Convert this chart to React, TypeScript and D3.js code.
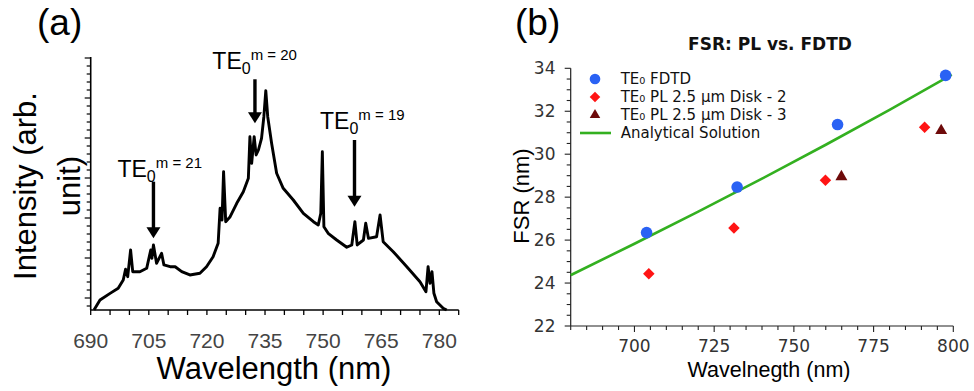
import React from "react";
import * as d3 from "d3";

// ---------- Panel (a): PL spectrum ----------
const specNm = [690.85, 692.4, 695.0, 697.1, 698.4, 699.0, 699.55, 700.3, 700.85, 702.7, 704.45, 705.5, 705.8, 706.2, 707.0, 708.3, 708.9, 710.5, 711.8, 713.5, 715.6, 718.2, 719.9, 721.6, 722.9, 723.4, 723.9, 724.3, 724.85, 726.0, 727.7, 729.4, 730.7, 731.1, 731.55, 732.2, 732.7, 733.3, 734.1, 734.7, 735.2, 735.7, 736.7, 738.0, 739.7, 742.3, 744.9, 747.5, 748.75, 749.4, 749.8, 750.2, 751.3, 753.5, 756.1, 757.4, 758.2, 758.8, 760.4, 761.0, 761.7, 763.8, 764.7, 765.5, 768.1, 771.6, 775.0, 776.55, 777.1, 777.6, 778.1, 778.6, 779.3, 781.0, 781.9];
const specI = [-1.5, -0.25, 0.58, 1.21, 2.25, 3.59, 2.66, 6.0, 3.29, 3.29, 3.71, 6.0, 4.96, 6.63, 4.34, 5.59, 4.13, 3.91, 3.91, 3.29, 2.88, 3.09, 3.91, 5.16, 6.84, 11.21, 9.75, 15.79, 9.54, 10.16, 11.84, 13.29, 14.96, 20.16, 16.84, 20.16, 17.88, 18.5, 19.96, 22.66, 25.91, 22.66, 19.34, 15.59, 13.71, 12.25, 10.59, 9.54, 9.13, 10.59, 18.29, 8.91, 8.09, 7.25, 6.34, 6.63, 9.54, 6.63, 7.25, 9.34, 7.46, 7.66, 10.38, 7.04, 5.79, 3.91, 2.04, 0.79, 3.91, 1.84, 3.29, 0.59, -0.46, -1.29, -1.5];
const xTickLabelsA = [690, 705, 720, 735, 750, 765, 780];
const modeLabels = ["m = 21", "m = 20", "m = 19"];
const modeArrowNm = [706.2, 732.4, 758.1];
const modeArrowTop = [14.54, 27.34, 19.75];
const modeArrowTip = [7.46, 21.84, 11.41];
const modeTextNm = [696.9, 721.4, 749.2];
const modeTextI = [15.17, 28.6, 21.09];

// ---------- Panel (b): FSR ----------
const fdtdNm = [703.8, 732.2, 763.7, 797.6];
const fdtdFsr = [26.35, 28.47, 31.38, 33.67];
const pl2Nm = [704.5, 731.2, 759.9, 791.0];
const pl2Fsr = [24.43, 26.56, 28.79, 31.26];
const pl3Nm = [764.9, 796.2];
const pl3Fsr = [28.95, 31.1];
const analyticNm = [680, 700, 720, 740, 760, 780, 799.5];
const analyticFsr = [24.37, 25.83, 27.33, 28.86, 30.44, 32.06, 33.7];
const yTickLabelsB = [22, 24, 26, 28, 30, 32, 34];
const xTickLabelsB = [700, 725, 750, 775, 800];
const legendLabels = ["TE\u2080 FDTD", "TE\u2080 PL 2.5 \u00b5m Disk - 2", "TE\u2080 PL 2.5 \u00b5m Disk - 3", "Analytical Solution"];

const BLUE = "#2a62f4";
const RED = "#ff1414";
const MAROON = "#6e0a0a";
const GREEN = "#33b020";
const ARIAL = "'Liberation Sans', Arial, sans-serif";
const DEJA = "'DejaVu Sans', sans-serif";

export default function App() {
  // scales (a)
  const xA = d3.scaleLinear().domain([690, 785]).range([90.7, 458.7]);
  const yA = d3.scaleLinear().domain([-1.5, 30]).range([310, 58]);
  const specLine = d3
    .line<number>()
    .x((_, i) => xA(specNm[i]))
    .y((d) => yA(d))(specI) as string;
  const xTicksA = d3.range(690, 786, 5);
  const yTicksA = d3.range(-1, 31, 1);

  // scales (b)
  const xB = d3.scaleLinear().domain([680, 800]).range([570.7, 953.3]);
  const yB = d3.scaleLinear().domain([22, 34]).range([326, 68.3]);
  const analyticPath = d3
    .line<number>()
    .x((_, i) => xB(analyticNm[i]))
    .y((d) => yB(d))
    .curve(d3.curveMonotoneX)(analyticFsr) as string;
  const xTicksB = d3.range(680, 801, 5);
  const yTicksB = d3.range(22, 34.01, 0.5);
  const sq = d3.symbol(d3.symbolSquare, 66)() as string;
  const sqLeg = d3.symbol(d3.symbolSquare, 56)() as string;
  const tri = d3.symbol(d3.symbolTriangle, 62)() as string;
  const triLeg = d3.symbol(d3.symbolTriangle, 48)() as string;

  const legX = 595;
  const legY0 = 79;
  const legDy = 18;

  return (
    <svg
      width={974}
      height={391}
      viewBox="0 0 974 391"
      style={{ position: "absolute", left: 0, top: 0, background: "#fff" }}
    >
      <rect width={974} height={391} fill="#fff" />
      {/* ===== Panel (a) ===== */}
      <text x={37} y={35} fontFamily={ARIAL} fontSize={37} fill="#000">(a)</text>
      {/* axes */}
      <line x1={xA(690)} x2={xA(690)} y1={yA(-1.5)} y2={yA(30) - 1} stroke="#000" strokeWidth={1.6} />
      <line x1={xA(690)} x2={xA(785)} y1={yA(-1.5)} y2={yA(-1.5)} stroke="#000" strokeWidth={1.6} />
      {xTicksA.map((t) => (
        <line key={"xa" + t} x1={xA(t)} x2={xA(t)} y1={yA(-1.5)} y2={yA(-1.5) + 5} stroke="#000" strokeWidth={1.3} />
      ))}
      {xTickLabelsA.map((t) => (
        <text key={"xla" + t} x={xA(t)} y={348} textAnchor="middle" fontFamily={ARIAL} fontSize={21} fill="#444">{t}</text>
      ))}
      {yTicksA.map((t) => (
        <line key={"ya" + t} x1={xA(690)} x2={xA(690) - (t % 5 === 0 ? 6 : 4)} y1={yA(t)} y2={yA(t)} stroke="#000" strokeWidth={1.2} />
      ))}
      <text x={274} y={379} textAnchor="middle" fontFamily={ARIAL} fontSize={31} fill="#000">Wavelength (nm)</text>
      <text transform="translate(35.5,186) rotate(-90)" textAnchor="middle" fontFamily={ARIAL} fontSize={31} fill="#000">Intensity (arb.</text>
      <text transform="translate(80,186) rotate(-90)" textAnchor="middle" fontFamily={ARIAL} fontSize={31} fill="#000">unit)</text>
      {/* spectrum */}
      <path d={specLine} fill="none" stroke="#000" strokeWidth={2.9} strokeLinejoin="round" />
      {/* mode arrows and labels */}
      {modeLabels.map((lab, i) => {
        const ax = xA(modeArrowNm[i]);
        const top = yA(modeArrowTop[i]);
        const tip = yA(modeArrowTip[i]);
        return (
          <g key={"mode" + i}>
            <line x1={ax} x2={ax} y1={top} y2={tip - 8} stroke="#000" strokeWidth={3.4} />
            <path d={`M${ax - 7},${tip - 11}L${ax + 7},${tip - 11}L${ax},${tip}Z`} fill="#000" />
            <text x={xA(modeTextNm[i])} y={yA(modeTextI[i])} fontFamily={ARIAL} fill="#000">
              <tspan fontSize={23}>TE</tspan>
              <tspan fontSize={16} dy={5}>0</tspan>
              <tspan fontSize={15} dy={-14}>{lab}</tspan>
            </text>
          </g>
        );
      })}

      {/* ===== Panel (b) ===== */}
      <text x={515} y={35} fontFamily={ARIAL} fontSize={37} fill="#000">(b)</text>
      <text x={770} y={50} textAnchor="middle" fontFamily={DEJA} fontWeight="bold" fontSize={17} fill="#111">FSR: PL vs. FDTD</text>
      <line x1={xB(680)} x2={xB(680)} y1={yB(22)} y2={yB(34)} stroke="#222" strokeWidth={1.2} />
      <line x1={xB(680)} x2={xB(800)} y1={yB(22)} y2={yB(22)} stroke="#222" strokeWidth={1.2} />
      {xTicksB.map((t) => (
        <line key={"xb" + t} x1={xB(t)} x2={xB(t)} y1={yB(22)} y2={yB(22) + (t % 25 === 0 ? 6 : 4)} stroke="#222" strokeWidth={1.1} />
      ))}
      {xTickLabelsB.map((t) => (
        <text key={"xlb" + t} x={xB(t)} y={351.5} textAnchor="middle" fontFamily={DEJA} fontSize={17} fill="#333">{t}</text>
      ))}
      {yTicksB.map((t) => (
        <line key={"yb" + t} x1={xB(680)} x2={xB(680) - (Math.abs(t % 2) < 1e-6 ? 6 : 4)} y1={yB(t)} y2={yB(t)} stroke="#222" strokeWidth={1.1} />
      ))}
      {yTickLabelsB.map((t) => (
        <text key={"ylb" + t} x={555.5} y={yB(t)} dy="0.36em" textAnchor="end" fontFamily={DEJA} fontSize={17} fill="#333">{t}</text>
      ))}
      <text x={769} y={377} textAnchor="middle" fontFamily={ARIAL} fontSize={21.5} fill="#000">Wavelnegth (nm)</text>
      <text transform="translate(529,196) rotate(-90)" textAnchor="middle" fontFamily={ARIAL} fontSize={22} fill="#000">FSR (nm)</text>

      <path d={analyticPath} fill="none" stroke={GREEN} strokeWidth={2.6} />
      {fdtdNm.map((x, i) => (
        <circle key={"f" + i} cx={xB(x)} cy={yB(fdtdFsr[i])} r={5.8} fill={BLUE} />
      ))}
      {pl2Nm.map((x, i) => (
        <path key={"p2" + i} d={sq} transform={`translate(${xB(x)},${yB(pl2Fsr[i])}) rotate(45)`} fill={RED} />
      ))}
      {pl3Nm.map((x, i) => (
        <path key={"p3" + i} d={tri} transform={`translate(${xB(x)},${yB(pl3Fsr[i])})`} fill={MAROON} />
      ))}

      {/* legend */}
      <circle cx={legX} cy={legY0} r={5.3} fill={BLUE} />
      <path d={sqLeg} transform={`translate(${legX},${legY0 + legDy}) rotate(45)`} fill={RED} />
      <path d={triLeg} transform={`translate(${legX},${legY0 + 2 * legDy})`} fill={MAROON} />
      <line x1={580} x2={611} y1={legY0 + 3 * legDy} y2={legY0 + 3 * legDy} stroke={GREEN} strokeWidth={2.6} />
      {legendLabels.map((l, i) => (
        <text key={"lg" + i} x={620.7} y={legY0 + i * legDy} dy="0.36em" fontFamily={DEJA} fontSize={15} fill="#111">{l}</text>
      ))}
    </svg>
  );
}
